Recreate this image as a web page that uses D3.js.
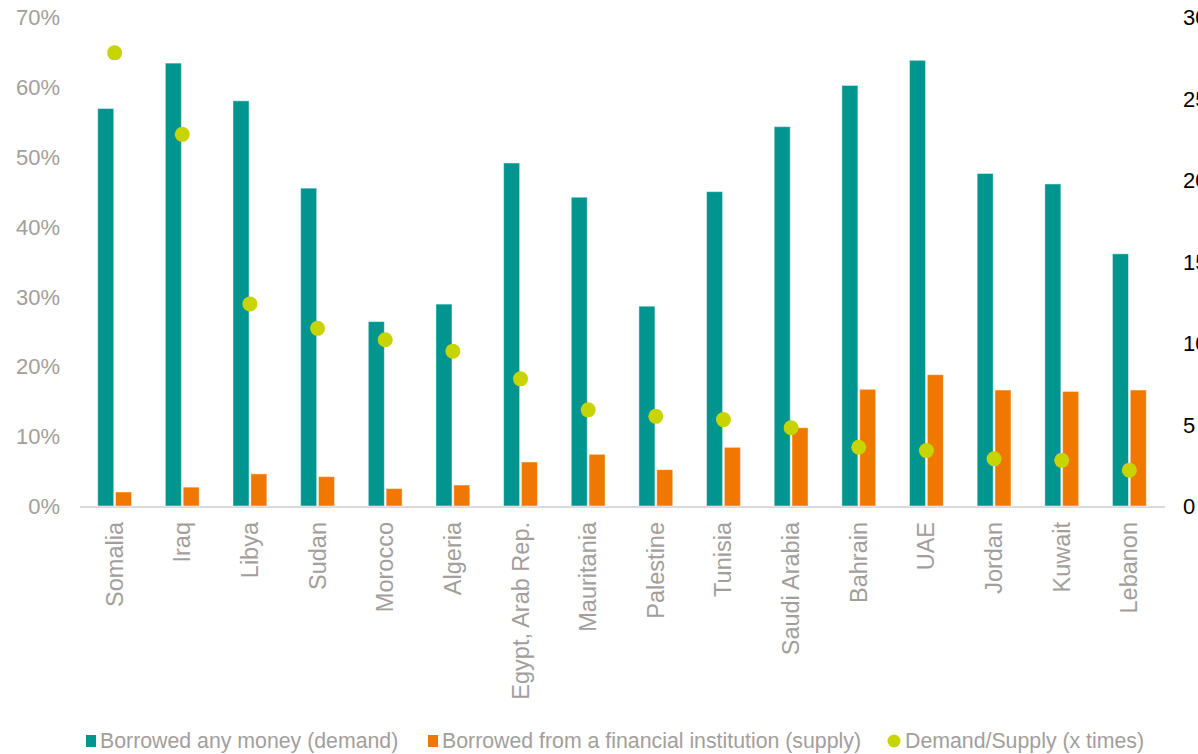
<!DOCTYPE html>
<html>
<head>
<meta charset="utf-8">
<script src="https://cdn.jsdelivr.net/npm/d3@7"></script>
<style>
  html, body { margin: 0; padding: 0; background: #fff; }
  svg { display: block; font-family: "Liberation Sans", Arial, sans-serif; }
</style>
</head>
<body>
<svg id="chart" width="1198" height="754"></svg>
<script>
const countries = ["Somalia","Iraq","Libya","Sudan","Morocco","Algeria","Egypt, Arab Rep.","Mauritania","Palestine","Tunisia","Saudi Arabia","Bahrain","UAE","Jordan","Kuwait","Lebanon"];
const demand = [56.9, 63.4, 58.0, 45.5, 26.4, 28.9, 49.1, 44.2, 28.6, 45.0, 54.3, 60.2, 63.8, 47.6, 46.1, 36.1];
const supply = [2.0, 2.7, 4.6, 4.2, 2.5, 3.0, 6.3, 7.4, 5.2, 8.4, 11.2, 16.7, 18.8, 16.6, 16.4, 16.6];
const ratio = [27.8, 22.8, 12.4, 10.9, 10.2, 9.5, 7.8, 5.9, 5.5, 5.3, 4.8, 3.6, 3.4, 2.9, 2.8, 2.2];
const leftTicks = [0, 10, 20, 30, 40, 50, 60, 70];
const rightTicks = [0, 5, 10, 15, 20, 25, 30];
const seriesNames = ["Borrowed any money (demand)", "Borrowed from a financial institution (supply)", "Demand/Supply (x times)"];

const colors = { demand: "#00968f", supply: "#f07800", ratio: "#c8d400" };
const svg = d3.select("#chart");

const plotLeft = 80.8, plotRight = 1163.2, plotTop = 17, plotBottom = 506;

const x0 = d3.scaleBand().domain(countries).range([plotLeft, plotRight]).paddingInner(0.5).paddingOuter(0.25);
const x1 = d3.scaleBand().domain(["demand", "supply"]).range([0, x0.bandwidth()]).paddingInner(0.1);
const yL = d3.scaleLinear().domain([0, 70]).range([plotBottom, plotTop]);
const yR = d3.scaleLinear().domain([0, 30]).range([plotBottom, plotTop]);

// baseline
svg.append("line").attr("x1", 80).attr("x2", 1165).attr("y1", plotBottom + 1).attr("y2", plotBottom + 1)
  .attr("stroke", "#d9d9d9").attr("stroke-width", 2);

// left axis
const axL = d3.axisLeft(yL).tickValues(leftTicks).tickFormat(d => d + "%").tickSize(0).tickPadding(0);
const gL = svg.append("g").attr("transform", "translate(60,0)").call(axL);
gL.select(".domain").remove();
gL.selectAll("text").attr("fill", "#a39e9b").style("font-size", "22px").style("font-family", "'Liberation Sans', Arial, sans-serif").attr("dy", "0.35em");

// right axis (partly outside the frame, as in the original)
const axR = d3.axisRight(yR).tickValues(rightTicks).tickFormat(d => d).tickSize(0).tickPadding(0);
const gR = svg.append("g").attr("transform", "translate(1183,0)").call(axR);
gR.select(".domain").remove();
gR.selectAll("text").attr("fill", "#000").style("font-size", "22px").style("font-family", "'Liberation Sans', Arial, sans-serif").attr("dy", "0.35em");

// bars
const groups = svg.append("g").selectAll("g").data(countries).join("g")
  .attr("transform", d => `translate(${x0(d)},0)`);
groups.append("rect")
  .attr("x", x1("demand")).attr("width", x1.bandwidth())
  .attr("y", (d, i) => yL(demand[i])).attr("height", (d, i) => yL(0) - yL(demand[i]))
  .attr("fill", colors.demand).attr("stroke", "rgba(255,255,255,0.45)").attr("stroke-width", 1);
groups.append("rect")
  .attr("x", x1("supply")).attr("width", x1.bandwidth())
  .attr("y", (d, i) => yL(supply[i])).attr("height", (d, i) => yL(0) - yL(supply[i]))
  .attr("fill", colors.supply).attr("stroke", "rgba(255,255,255,0.45)").attr("stroke-width", 1);

// dots
svg.append("g").selectAll("circle").data(countries).join("circle")
  .attr("cx", d => x0(d) + x0.bandwidth() / 2)
  .attr("cy", (d, i) => yR(ratio[i]))
  .attr("r", 7.5).attr("fill", colors.ratio);

// category labels
svg.append("g").selectAll("text").data(countries).join("text")
  .attr("transform", d => `translate(${x0(d) + x0.bandwidth() / 2 + 8},522) rotate(-90)`)
  .attr("text-anchor", "end")
  .attr("fill", "#a39e9b").style("font-size", "23.5px")
  .text(d => d);

// legend
const leg = svg.append("g").attr("transform", "translate(0,741)");
const items = [
  { name: seriesNames[0], type: "rect", color: colors.demand, x: 86, tx: 100 },
  { name: seriesNames[1], type: "rect", color: colors.supply, x: 428, tx: 442 },
  { name: seriesNames[2], type: "circle", color: colors.ratio, x: 888, tx: 905 }
];
items.forEach(it => {
  if (it.type === "rect") {
    leg.append("rect").attr("x", it.x).attr("y", -6).attr("width", 10).attr("height", 12).attr("fill", it.color);
  } else {
    leg.append("circle").attr("cx", it.x + 6).attr("cy", 0).attr("r", 6.5).attr("fill", it.color);
  }
  leg.append("text").attr("x", it.tx).attr("y", 0).attr("dy", "0.35em")
    .attr("fill", "#a39e9b").style("font-size", "21.3px").text(it.name);
});
</script>
</body>
</html>
